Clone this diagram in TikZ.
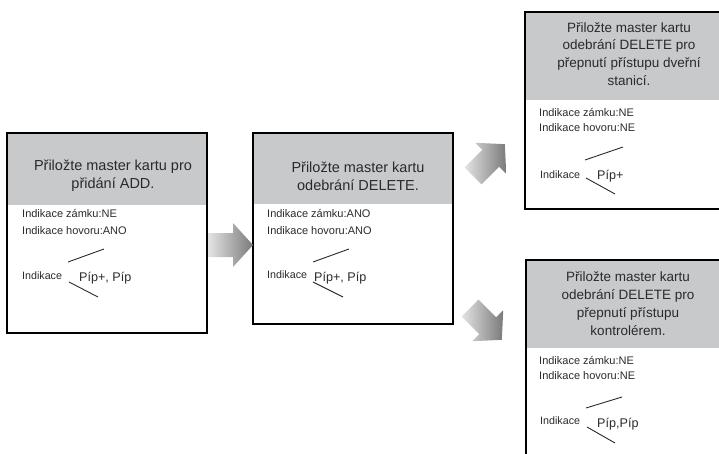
\documentclass[tikz,border=0pt]{standalone}
\usepackage{fontspec}
\setmainfont{Liberation Sans}
\definecolor{hdr}{HTML}{C7C9CB}
\definecolor{txt}{HTML}{2A2A2A}
\definecolor{arrL}{HTML}{E4E4E4}
\definecolor{arrR}{HTML}{7A7A7A}
\begin{document}
\begin{tikzpicture}[x=1pt,y=-1pt,
  frame/.style={draw=black, line width=1.8pt},
  hdrfill/.style={fill=hdr},
  htxtA/.style={align=center, inner sep=0pt, text=txt, font=\fontsize{14.5}{18.2}\selectfont},
  htxtB/.style={align=center, inner sep=0pt, text=txt, font=\fontsize{13.5}{17.8}\selectfont},
  btxt/.style={anchor=base west, inner sep=0pt, text=txt, font=\fontsize{11}{13}\selectfont},
  itxt/.style={anchor=base west, inner sep=0pt, text=txt, font=\fontsize{10.7}{13}\selectfont},
  ptxt/.style={anchor=base west, inner sep=0pt, text=txt, font=\fontsize{12.6}{15}\selectfont},
  tick/.style={draw=txt, line width=0.9pt},
  blockarrow/.style={left color=arrL, right color=arrR}
]
\useasboundingbox (0,0) rectangle (719,454);
\clip (0,0) rectangle (719,454);

% ---------- Box 1 ----------
\fill[hdrfill] (7,133) rectangle (207,205);
\draw[frame] (7,133) rectangle (207,333);
\node[htxtA] (h1) at (113,176) {Přiložte master kartu pro\\přidání ADD.};
\node[btxt] (z1) at (22,218) {Indikace zámku:NE};
\node[btxt] (v1) at (22,234.5) {Indikace hovoru:ANO};
\node[itxt] (i1) at (22,279) {Indikace};
\node[ptxt] (p1) at (79,281) {Píp+, Píp};
\coordinate (a1s) at (68,262); \coordinate (a1e) at (104,249);
\coordinate (b1s) at (69,282); \coordinate (b1e) at (98,297);
\draw[tick] (a1s) -- (a1e);
\draw[tick] (b1s) -- (b1e);

% ---------- Box 2 ----------
\fill[hdrfill] (253,133) rectangle (453,204);
\draw[frame] (253,133) rectangle (453,324);
\node[htxtA] (h2) at (358,176) {Přiložte master kartu\\odebrání DELETE.};
\node[btxt] (z2) at (267,218) {Indikace zámku:ANO};
\node[btxt] (v2) at (267,234.5) {Indikace hovoru:ANO};
\node[itxt] (i2) at (267,278.5) {Indikace};
\node[ptxt] (p2) at (314,281.5) {Píp+, Píp};
\coordinate (a2s) at (313,262); \coordinate (a2e) at (349,249);
\coordinate (b2s) at (313,282); \coordinate (b2e) at (343,297);
\draw[tick] (a2s) -- (a2e);
\draw[tick] (b2s) -- (b2e);

% ---------- Box 3 ----------
\fill[hdrfill] (525,12) rectangle (725,100);
\draw[frame] (725,12) -- (525,12) -- (525,209) -- (725,209);
\node[htxtB] (h3) at (629,54) {Přiložte master kartu\\odebrání DELETE pro\\přepnutí přístupu dveřní\\stanicí.};
\node[btxt] (z3) at (539,116.7) {Indikace zámku:NE};
\node[btxt] (v3) at (539,131.7) {Indikace hovoru:NE};
\node[itxt] (i3) at (540,178.3) {Indikace};
\node[ptxt] (p3) at (597,180) {Píp+};
\coordinate (a3s) at (585,160); \coordinate (a3e) at (623,147);
\coordinate (b3s) at (586,178); \coordinate (b3e) at (615,194);
\draw[tick] (a3s) -- (a3e);
\draw[tick] (b3s) -- (b3e);

% ---------- Box 4 ----------
\fill[hdrfill] (526,260) rectangle (725,348);
\draw[frame] (725,260) -- (526,260) -- (526,460);
\node[htxtB] (h4) at (628,303.5) {Přiložte master kartu\\odebrání DELETE pro\\přepnutí přístupu\\kontrolérem.};
\node[btxt] (z4) at (539,364.3) {Indikace zámku:NE};
\node[btxt] (v4) at (539,379) {Indikace hovoru:NE};
\node[itxt] (i4) at (540,424.3) {Indikace};
\node[ptxt] (p4) at (597,427.3) {Píp,Píp};
\coordinate (a4s) at (586,408); \coordinate (a4e) at (622,397);
\coordinate (b4s) at (587,427); \coordinate (b4e) at (615,443);
\draw[tick] (a4s) -- (a4e);
\draw[tick] (b4s) -- (b4e);

% ---------- Block arrows ----------
\shade[blockarrow, shift={(208,245)}]
  (0,-12) -- (25,-12) -- (25,-22) -- (45,0) -- (25,22) -- (25,12) -- (0,12) -- cycle;
\shade[blockarrow, shift={(473,176)}, rotate=45]
  (0,-12) -- (25,-12) -- (25,-22) -- (45,0) -- (25,22) -- (25,12) -- (0,12) -- cycle;
\shade[blockarrow, shift={(470,308)}, rotate=-45]
  (0,-12) -- (25,-12) -- (25,-22) -- (45,0) -- (25,22) -- (25,12) -- (0,12) -- cycle;
\end{tikzpicture}
\end{document}
